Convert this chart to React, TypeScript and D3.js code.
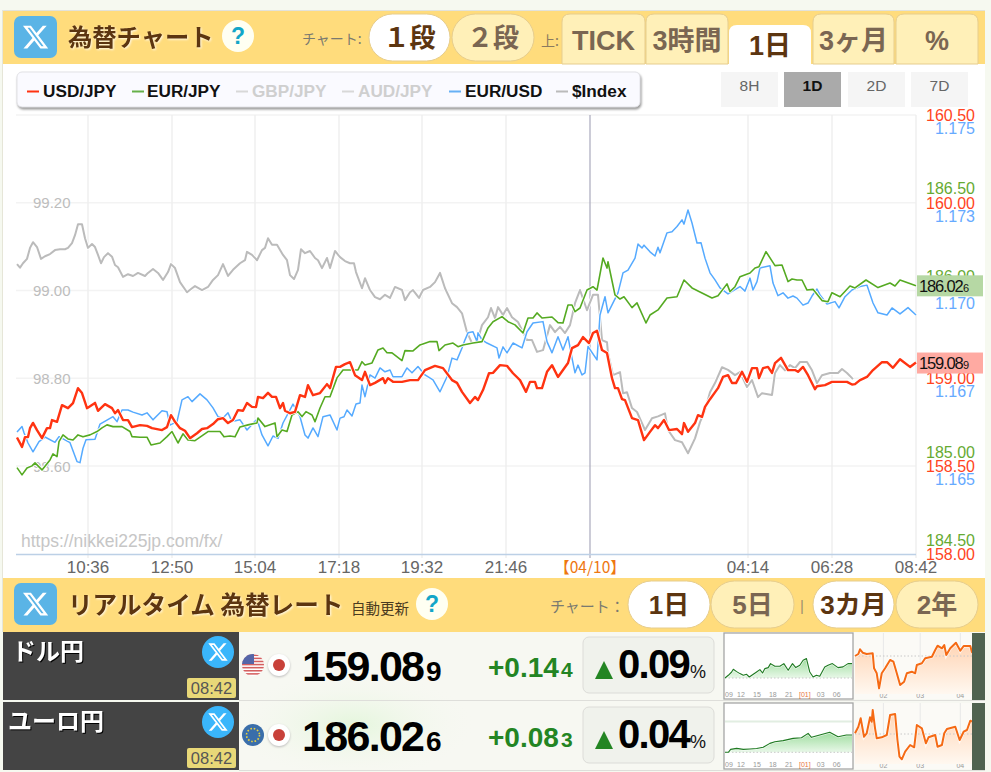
import React from 'react';
import * as d3 from 'd3';

// x is a step on the one-day axis: 900 steps = 24 hours, 0 = 08:42 of the previous day
type P = [number, number];

const timeTicks: P[] = [[72, 0], [156, 0], [239, 0], [323, 0], [406, 0], [490, 0], [574, 0], [732, 0], [816, 0], [900, 0]];
const timeLabels = ['10:36', '12:50', '15:04', '17:18', '19:32', '21:46', '【04/10】', '04:14', '06:28', '08:42'];
const indexTicks = [99.2, 99.0, 98.8, 98.6];
const usdTicks = [160.5, 160.0, 159.0, 158.5, 158.0];
const eurTicks = [186.5, 186.0, 185.0, 184.5];
const eurUsdTicks = [1.175, 1.1725, 1.17, 1.1675, 1.165];
const eurUsdTickLabels = ['1.175', '1.173', '1.170', '1.167', '1.165'];

const usdJpy: P[] = [[1,158.662],[6,158.608],[9,158.664],[12,158.664],[14,158.715],[17,158.745],[21,158.704],[26,158.658],[31,158.715],[34,158.715],[36,158.761],[41,158.751],[46,158.846],[52,158.829],[57,158.858],[62,158.943],[66,158.915],[71,158.829],[79,158.859],[82,158.814],[89,158.852],[96,158.829],[99,158.8],[102,158.818],[107,158.761],[112,158.761],[116,158.721],[124,158.732],[131,158.728],[136,158.715],[146,158.704],[151,158.721],[155,158.789],[159,158.751],[164,158.715],[169,158.7],[174,158.658],[181,158.686],[186,158.71],[191,158.715],[197,158.738],[202,158.766],[207,158.772],[212,158.744],[217,158.761],[222,158.818],[227,158.814],[231,158.858],[236,158.836],[240,158.835],[242,158.893],[247,158.886],[252,158.916],[256,158.893],[260,158.893],[264,158.829],[267,158.858],[269,158.814],[274,158.8],[279,158.808],[284,158.903],[289,158.893],[292,158.96],[297,158.903],[304,158.915],[311,158.966],[314,158.943],[320,159.064],[324,159.064],[329,159.08],[334,159.091],[339,159.017],[346,158.989],[349,159.036],[354,158.96],[359,158.973],[367,159.0],[369,158.972],[372,159.0],[377,158.979],[386,158.979],[394,158.989],[402,158.989],[409,159.046],[419,159.07],[427,159.057],[436,158.989],[441,158.973],[446,158.922],[454,158.858],[459,158.893],[462,158.875],[467,158.932],[473,159.028],[477,159.03],[484,159.074],[491,159.07],[497,159.028],[504,158.989],[510,158.922],[514,158.979],[519,158.979],[521,158.943],[526,158.943],[531,159.036],[536,159.074],[542,159.007],[547,159.046],[552,159.086],[556,159.171],[562,159.188],[567,159.234],[573,159.2],[577,159.257],[581,159.27],[586,159.16],[591,159.143],[596,159.0],[599,158.943],[602,158.943],[606,158.88],[609,158.875],[616,158.772],[622,158.761],[628,158.647],[634,158.694],[639,158.732],[642,158.715],[648,158.761],[653,158.704],[661,158.71],[666,158.681],[668,158.744],[672,158.694],[679,158.744],[682,158.789],[686,158.779],[689,158.836],[694,158.88],[702,158.943],[707,159.007],[712,159.017],[716,158.972],[720,158.972],[726,159.036],[731,158.979],[736,159.057],[741,159.057],[743,159.0],[747,159.057],[752,159.064],[756,159.03],[759,159.086],[765,159.116],[772,159.046],[779,159.046],[782,159.036],[787,159.064],[792,159.017],[799,158.937],[801,158.954],[809,158.96],[816,158.979],[831,158.979],[836,158.964],[839,158.966],[844,158.989],[851,159.007],[857,159.046],[866,159.091],[871,159.091],[877,159.059],[884,159.108],[894,159.064],[900,159.089]];

const eurJpy: P[] = [[1,184.993],[6,184.952],[11,184.991],[16,185.003],[19,185.02],[26,184.98],[34,185.037],[37,185.071],[41,185.056],[43,185.141],[47,185.179],[52,185.156],[57,185.15],[62,185.179],[67,185.168],[74,185.179],[81,185.198],[86,185.219],[91,185.236],[97,185.226],[106,185.226],[114,185.198],[116,185.169],[124,185.166],[131,185.166],[135,185.122],[144,185.133],[151,185.169],[156,185.198],[162,185.133],[167,185.185],[172,185.15],[179,185.146],[192,185.198],[204,185.198],[208,185.168],[214,185.173],[219,185.168],[224,185.224],[232,185.236],[241,185.247],[242,185.275],[249,185.226],[259,185.247],[261,185.169],[266,185.207],[271,185.198],[276,185.292],[282,185.311],[286,185.283],[290,185.311],[296,185.292],[299,185.254],[304,185.332],[309,185.396],[314,185.396],[321,185.503],[327,185.548],[342,185.548],[346,185.595],[349,185.576],[356,185.588],[362,185.662],[367,185.673],[371,185.646],[376,185.645],[386,185.601],[389,185.658],[397,185.656],[404,185.69],[414,185.709],[421,185.709],[423,185.658],[429,185.69],[437,185.701],[442,185.68],[447,185.69],[457,185.701],[466,185.709],[472,185.787],[477,185.822],[486,185.851],[492,185.822],[499,185.804],[507,185.758],[512,185.843],[517,185.843],[521,185.872],[526,185.843],[536,185.849],[542,185.817],[547,185.815],[552,185.917],[556,185.917],[559,185.879],[564,185.9],[571,186.002],[577,186.021],[581,186.002],[587,186.184],[591,186.127],[592,186.163],[599,185.974],[604,185.951],[608,185.964],[616,185.902],[621,185.929],[630,185.815],[634,185.86],[642,185.889],[651,185.957],[661,185.964],[668,186.059],[676,186.014],[686,185.985],[696,185.957],[702,185.97],[711,186.037],[714,185.993],[719,186.021],[724,186.078],[734,186.099],[739,186.127],[743,186.135],[750,186.22],[759,186.141],[766,186.144],[772,186.05],[776,186.065],[781,186.059],[786,186.059],[791,186.002],[797,186.006],[806,185.942],[812,185.936],[816,185.987],[824,185.964],[834,186.025],[839,186.014],[850,186.059],[862,186.016],[874,186.042],[879,186.025],[884,186.059],[900,186.026]];

const eurUsd: P[] = [[1,1.16596],[6,1.16612],[8,1.16594],[12,1.16565],[17,1.1654],[23,1.16569],[29,1.16582],[39,1.16567],[43,1.16583],[54,1.16566],[61,1.16512],[64,1.16509],[67,1.1655],[70,1.16574],[79,1.16576],[84,1.16619],[97,1.1664],[101,1.16626],[106,1.16659],[112,1.16659],[117,1.16653],[126,1.16645],[131,1.16651],[137,1.16631],[146,1.16657],[151,1.16654],[154,1.16616],[161,1.16626],[166,1.16688],[172,1.16697],[176,1.16683],[184,1.16705],[191,1.16688],[197,1.16665],[202,1.1664],[207,1.16636],[212,1.16651],[216,1.16626],[224,1.16631],[231,1.16602],[241,1.16633],[246,1.16588],[252,1.16557],[257,1.16585],[262,1.16578],[267,1.16622],[277,1.16676],[284,1.1664],[289,1.16588],[292,1.16579],[297,1.16608],[302,1.16583],[307,1.1664],[314,1.16645],[321,1.16602],[324,1.16636],[328,1.1664],[331,1.16659],[336,1.16642],[340,1.16676],[344,1.16679],[346,1.1673],[349,1.16697],[354,1.16759],[359,1.1675],[364,1.16779],[369,1.16768],[374,1.16773],[377,1.16754],[386,1.16754],[391,1.16779],[396,1.16765],[402,1.16783],[409,1.16759],[417,1.16745],[424,1.16711],[431,1.16754],[436,1.16807],[441,1.16802],[446,1.16836],[449,1.16859],[452,1.16879],[457,1.16882],[461,1.16854],[462,1.16879],[466,1.16859],[471,1.1685],[481,1.16836],[483,1.16807],[487,1.16839],[491,1.16822],[497,1.1685],[506,1.16836],[511,1.16882],[517,1.16907],[527,1.16911],[531,1.16854],[536,1.16822],[542,1.16868],[547,1.1683],[552,1.16868],[556,1.16807],[559,1.16765],[562,1.16787],[566,1.16759],[569,1.16765],[572,1.1684],[581,1.16802],[584,1.1693],[589,1.16982],[592,1.16936],[602,1.16993],[607,1.1705],[612,1.17058],[619,1.17092],[622,1.17132],[626,1.17121],[628,1.17129],[634,1.1711],[639,1.17098],[642,1.17123],[644,1.17107],[651,1.17164],[656,1.17167],[661,1.17182],[666,1.17201],[668,1.17189],[672,1.17229],[676,1.17192],[681,1.17135],[685,1.17136],[689,1.17092],[694,1.1705],[699,1.1703],[704,1.17007],[712,1.1699],[724,1.17011],[729,1.16998],[734,1.17035],[737,1.17001],[741,1.17025],[744,1.17064],[754,1.1707],[757,1.17021],[762,1.16985],[767,1.16993],[772,1.16978],[777,1.16984],[781,1.16978],[787,1.16958],[792,1.16964],[796,1.16984],[801,1.17004],[804,1.16987],[811,1.16961],[819,1.16968],[823,1.1695],[829,1.16982],[836,1.17001],[844,1.17011],[851,1.17015],[857,1.16964],[862,1.16936],[871,1.1693],[876,1.1695],[884,1.16933],[892,1.16951],[900,1.1693]];

const dollarIndex: P[] = [[1,99.06],[4,99.052],[7,99.062],[11,99.072],[14,99.097],[17,99.11],[21,99.099],[25,99.072],[29,99.078],[34,99.083],[39,99.092],[44,99.094],[49,99.094],[52,99.097],[56,99.108],[59,99.126],[62,99.151],[66,99.151],[69,99.119],[72,99.097],[76,99.106],[79,99.099],[82,99.081],[85,99.062],[88,99.076],[92,99.085],[96,99.077],[99,99.058],[102,99.053],[107,99.031],[112,99.037],[117,99.033],[122,99.04],[129,99.033],[132,99.04],[137,99.049],[142,99.04],[147,99.024],[152,99.042],[155,99.06],[159,99.051],[164,99.019],[171,98.996],[176,99.005],[179,99.01],[186,99.001],[192,99.008],[197,99.024],[202,99.035],[207,99.06],[212,99.033],[217,99.047],[224,99.062],[229,99.069],[231,99.088],[236,99.081],[241,99.069],[246,99.092],[249,99.097],[252,99.119],[256,99.104],[261,99.104],[267,99.081],[271,99.069],[274,99.035],[278,99.026],[282,99.047],[285,99.094],[289,99.085],[294,99.09],[299,99.074],[302,99.069],[306,99.051],[311,99.074],[314,99.051],[319,99.09],[324,99.076],[329,99.067],[334,99.062],[338,99.062],[340,99.042],[346,99.005],[349,99.028],[354,99.001],[359,98.985],[364,98.98],[369,98.99],[374,98.983],[379,99.008],[386,99.001],[389,98.978],[394,98.996],[397,99.001],[403,98.983],[407,99.001],[414,99.008],[419,99.019],[424,99.04],[429,99.005],[436,98.971],[441,98.962],[446,98.948],[451,98.905],[456,98.88],[461,98.882],[466,98.921],[472,98.939],[475,98.96],[479,98.937],[482,98.962],[487,98.944],[491,98.96],[496,98.939],[502,98.928],[507,98.905],[511,98.887],[516,98.887],[521,98.86],[527,98.864],[534,98.921],[539,98.905],[544,98.917],[549,98.903],[554,98.921],[559,98.971],[564,99.001],[571,98.955],[577,98.99],[582,98.99],[586,98.887],[591,98.882],[592,98.857],[597,98.807],[604,98.814],[607,98.766],[611,98.768],[616,98.732],[621,98.723],[629,98.682],[636,98.709],[642,98.713],[649,98.72],[652,98.682],[659,98.659],[666,98.654],[672,98.629],[679,98.663],[684,98.7],[689,98.727],[694,98.768],[699,98.789],[706,98.825],[712,98.819],[719,98.807],[724,98.814],[731,98.78],[736,98.796],[742,98.757],[746,98.766],[756,98.762],[759,98.812],[764,98.83],[769,98.818],[774,98.83],[779,98.823],[784,98.837],[791,98.837],[796,98.818],[801,98.789],[806,98.807],[814,98.812],[822,98.812],[826,98.821],[831,98.812],[837,98.798]];

// small table charts: [position along the strip, price]
const usdDay: P[] = [[15,158.945],[25,158.972],[35,159.005],[40,159.032],[50,159.009],[60,158.989],[70,158.972],[80,158.982],[88,158.955],[100,158.982],[110,159.005],[120,159.029],[128,158.995],[135,159.039],[145,159.049],[152,159.089],[165,159.062],[180,159.062],[192,159.089],[205,159.022],[218,159.089],[228,159.049],[240,159.072],[250,159.123],[260,159.139],[270,159.005],[280,158.955],[290,158.972],[300,158.962],[315,159.056],[325,159.072],[338,159.089],[355,159.049],[370,159.056],[385,159.089],[397,159.089]];
const eurDay: P[] = [[15,185.943],[25,185.943],[32,185.957],[50,185.962],[70,185.957],[90,185.959],[110,185.961],[130,185.967],[150,185.986],[165,185.994],[190,185.999],[220,186.01],[245,186.013],[265,186.034],[275,186.015],[300,186.026],[330,186.039],[355,186.018],[380,186.026],[397,186.026]];
const usdQuarter: P[] = [[405,158.9],[415,159.1],[420,159.57],[428,159.23],[440,159.1],[458,159.17],[462,157.67],[470,157.17],[477,155.67],[485,157.17],[495,157.67],[510,158.5],[520,158.33],[530,157.17],[540,156.0],[552,156.33],[560,157.17],[575,157.33],[585,157.17],[590,158.0],[605,158.17],[615,158.67],[635,158.83],[645,159.5],[652,159.93],[665,159.67],[672,160.0],[678,159.0],[690,159.67],[707,160.23],[720,159.43],[730,159.9],[750,159.9],[755,159.23]];
const eurQuarter: P[] = [[405,185.57],[415,186.23],[422,187.07],[432,185.23],[440,185.57],[450,187.17],[455,186.73],[458,187.9],[465,186.07],[470,185.07],[485,185.17],[500,185.4],[510,187.4],[525,187.5],[532,184.9],[538,183.23],[545,182.97],[555,183.73],[570,184.4],[582,184.17],[590,186.4],[605,186.07],[617,184.57],[625,185.17],[645,185.4],[652,184.23],[665,184.4],[672,185.57],[680,186.0],[705,186.23],[718,184.9],[730,185.73],[740,185.9],[750,186.83],[755,186.73]];
const dayLabels = ['09', '12', '15', '18', '21', '[01]', '03', '06'];
const dayLabelSteps = [27, 63, 111, 159, 207, 255, 303, 351];
const quarterLabels = ['02', '03', '04'];
const quarterLabelSteps = [490, 600, 720];

const legendItems = ['USD/JPY', 'EUR/JPY', 'GBP/JPY', 'AUD/JPY', 'EUR/USD', '$Index'];
const legendColors = ['#ff3311', '#66b04a', '#d8d8d8', '#d8d8d8', '#66b0f5', '#bbbbbb'];
const legendActive = [true, true, false, false, true, true];
const rangeButtons = ['8H', '1D', '2D', '7D'];
const periodTabs = ['TICK', '3時間', '1日', '3ヶ月', '%'];

const SANS = '"Liberation Sans","Noto Sans CJK JP",sans-serif';
const CJK = '"Noto Sans CJK JP","Liberation Sans",sans-serif';
const AMBER = '#ffdc7c';
const PALE = '#fff0b8';
const BROWN = '#5c3510';
const MUTED = '#7a6652';
const XPATH = 'M18.244 2.25h3.308l-7.227 8.26 8.502 11.24H16.17l-5.214-6.817L4.99 21.75H1.68l7.73-8.835L1.254 2.25H8.08l4.713 6.231zm-1.161 17.52h1.833L7.084 4.126H5.117z';
const GLOW = 'drop-shadow(1px 1px 1px rgba(255,255,255,0.85))';

const xT = d3.scaleLinear().domain([0, 900]).range([16, 916]);
const yIndex = d3.scaleLinear().domain([98.6, 99.2]).range([466, 202.7]);
const yUsd = d3.scaleLinear().domain([158, 160]).range([553.6, 202.7]);
const yEur = d3.scaleLinear().domain([185, 186]).range([466.4, 290.4]);
const yEurUsd = d3.scaleLinear().domain([1.165, 1.17]).range([465.8, 290.4]);

function pathOf(data: P[], y: d3.ScaleLinear<number, number>) {
  return d3.line<P>().x((d) => xT(d[0])).y((d) => y(d[1]))(data) ?? '';
}

function Series({ data, y, color, width }: { data: P[]; y: d3.ScaleLinear<number, number>; color: string; width: number }) {
  const d = pathOf(data, y);
  return (
    <g fill="none" strokeLinejoin="round">
      <path d={d} stroke="#fff" strokeWidth={width + 1.6} />
      <path d={d} stroke={color} strokeWidth={width} />
    </g>
  );
}

function XIcon({ x, y }: { x: number; y: number }) {
  return (
    <g>
      <rect x={x} y={y} width={43} height={42} rx={7} fill="#5ab4e6" />
      <path d={XPATH} transform={`translate(${x + 7.5},${y + 7}) scale(1.17)`} fill="#fff" />
    </g>
  );
}

function Help({ cx, cy }: { cx: number; cy: number }) {
  return (
    <g>
      <circle cx={cx} cy={cy} r={16} fill="#fffff2" />
      <text x={cx} y={cy + 8} textAnchor="middle" fontFamily={SANS} fontWeight="bold" fontSize={23} fill="#12a6c8">?</text>
    </g>
  );
}

function Pill({ x, w, y, h, label, on, size = 26 }: { x: number; w: number; y: number; h: number; label: string; on: boolean; size?: number }) {
  return (
    <g>
      <rect x={x} y={y} width={w} height={h} rx={h / 2} fill={on ? '#fff' : PALE} stroke="#e6cd8e" />
      <text x={x + w / 2} y={y + h / 2 + size * 0.36} textAnchor="middle" fontFamily={SANS} fontWeight="bold" fontSize={size} fill={on ? BROWN : MUTED}>{label}</text>
    </g>
  );
}

function TabShape({ x, w, top, on, label }: { x: number; w: number; top: number; on: boolean; label: string }) {
  const b = 64;
  const d = `M${x},${b}V${top + 8}Q${x},${top} ${x + 8},${top}H${x + w - 8}Q${x + w},${top} ${x + w},${top + 8}V${b}Z`;
  return (
    <g>
      <path d={d} fill={on ? '#fff' : PALE} stroke={on ? 'none' : '#e6cd8e'} />
      <text x={x + w / 2} y={on ? 55 : 50} textAnchor="middle" fontFamily={SANS} fontWeight="bold" fontSize={27} fill={on ? BROWN : MUTED}>{label}</text>
    </g>
  );
}

function Spark({ data, xr, dom, yBase, yPerUnit, color, width, base, fillTop, fillBottom, id, clipX, clipW, yFloor }:
  { data: P[]; xr: [number, number]; dom: [number, number]; yBase: number; yPerUnit: number; color: string; width: number; base: number; fillTop: string; fillBottom: string; id: string; clipX: number; clipW: number; yFloor: number }) {
  const x = d3.scaleLinear().domain(dom).range(xr);
  const y = d3.scaleLinear().domain([base, base + 1]).range([yBase, yBase - yPerUnit]);
  const line = d3.line<P>().x((d) => x(d[0])).y((d) => y(d[1]))(data) ?? '';
  const area = d3.area<P>().x((d) => x(d[0])).y0(yFloor).y1((d) => y(d[1]))(data) ?? '';
  return (
    <g>
      <defs>
        <linearGradient id={id} x1="0" x2="0" y1="0" y2="1">
          <stop offset="0" stopColor={fillTop} />
          <stop offset="1" stopColor={fillBottom} />
        </linearGradient>
      </defs>
      <path d={area} fill={`url(#${id})`} />
      <line x1={clipX} x2={clipX + clipW} y1={yBase} y2={yBase} stroke="#c8c8c8" strokeDasharray="1.5 2" />
      <path d={line} fill="none" stroke="#fff" strokeWidth={width + 1.4} strokeOpacity={0.7} />
      <path d={line} fill="none" stroke={color} strokeWidth={width} strokeLinejoin="round" />
    </g>
  );
}

function Row({ top, name, nameX, price, small, change, changeSmall, pct, eu, day, dayBase, dayPx, quarter, quarterBase, idp }:
  { top: number; name: string; nameX: number; price: string; small: string; change: string; changeSmall: string; pct: string; eu: boolean; day: P[]; dayBase: number; dayPx: number; quarter: P[]; quarterBase: number; idp: string }) {
  const dx = d3.scaleLinear().domain([15, 397]).range([725, 852]);
  const qx = d3.scaleLinear().domain([405, 755]).range([855, 972]);
  const baseY = top + (eu ? 50.3 : 46);
  const qBaseY = top + (eu ? 32 : 24);
  return (
    <g>
      <rect x={3} y={top} width={236} height={68} fill="#444" />
      <text x={nameX} y={top + 28} fontFamily={CJK} fontWeight="bold" fontSize={24} fill="#fff" style={{ filter: 'drop-shadow(1px 1px 0 #000)' }}>{name}</text>
      <circle cx={218} cy={top + 20} r={16} fill="#3ab6fb" />
      <path d={XPATH} transform={`translate(${218 - 10.8},${top + 20 - 10.8}) scale(0.9)`} fill="#fff" />
      <rect x={187} y={top + 46} width={49} height={20} rx={2} fill="#e8d878" />
      <text x={211.5} y={top + 62} textAnchor="middle" fontFamily={SANS} fontSize={16.5} fill="#555">08:42</text>

      <defs>
        <clipPath id={`${idp}flag`}><circle cx={253} cy={top + 33} r={11} /></clipPath>
      </defs>
      <circle cx={253} cy={top + 33} r={11} fill={eu ? '#3a6eaa' : '#fff'} />
      {eu
        ? <circle cx={253} cy={top + 33} r={6.5} fill="none" stroke="#e8d040" strokeWidth={1.6} strokeDasharray="1.6 1.8" />
        : <g clipPath={`url(#${idp}flag)`}>
            {d3.range(0, 7).map((i) => <rect key={i} x={242} y={top + 22.5 + i * 3.1} width={22} height={1.55} fill="#cc4444" opacity={0.85} />)}
            <rect x={242} y={top + 22} width={12} height={10} fill="#5566a8" />
          </g>}
      <circle cx={279} cy={top + 33} r={11} fill="#fff" style={{ filter: 'drop-shadow(0 1px 1px #bbb)' }} />
      <circle cx={279} cy={top + 33} r={6} fill="#c8413a" />

      <text x={302} y={top + 49} fontFamily={SANS} fontWeight="bold" fontSize={43} letterSpacing={-1.7} fill="#000">{price}</text>
      <text x={426} y={top + 49} fontFamily={SANS} fontWeight="bold" fontSize={28} fill="#000">{small}</text>
      <text x={488} y={top + 44.5} fontFamily={SANS} fontWeight="bold" fontSize={28} fill="#238523">{change}</text>
      <text x={561} y={top + 44.5} fontFamily={SANS} fontWeight="bold" fontSize={21} fill="#238523">{changeSmall}</text>

      <rect x={583} y={top + 5} width={131} height={56} rx={6} fill="#f0f2ec" stroke="#dcdcd8" />
      <path d={`M595,${top + 47}H613L604,${top + 29}Z`} fill="#238523" />
      <text x={618} y={top + 46} fontFamily={SANS} fontWeight="bold" fontSize={40} letterSpacing={-1.7} fill="#000">{pct}</text>
      <text x={690} y={top + 46} fontFamily={SANS} fontSize={18} fill="#111">%</text>

      <rect x={724} y={top + 1} width={129} height={66} fill="#fff" stroke="#a6a6a6" strokeWidth={1.3} />
      {eu && <line x1={725} x2={852} y1={top + 19.5} y2={top + 19.5} stroke="#e2eee2" strokeWidth={2} />}
      <Spark id={`${idp}d`} data={day} xr={[725, 852]} dom={[15, 397]} yBase={baseY} yPerUnit={dayPx} base={dayBase} color="#1f7a22" width={1.1} fillTop="#9edc9e" fillBottom="#e8f8e8" clipX={725} clipW={127} yFloor={baseY} />
      {dayLabels.map((l, i) => (
        <text key={l} x={dx(dayLabelSteps[i])} y={top + 65} textAnchor="middle" fontFamily={SANS} fontSize={7} fill={l === '[01]' ? '#e87744' : '#999'}>{l}</text>
      ))}

      <rect x={854} y={top + 1} width={118} height={66} fill="#fbfaf6" />
      {quarterLabels.map((l, i) => (
        <g key={l}>
          <line x1={qx(quarterLabelSteps[i])} x2={qx(quarterLabelSteps[i])} y1={top + 1} y2={top + 60} stroke="#e8e8e8" />
          <text x={qx(quarterLabelSteps[i])} y={top + 66} textAnchor="middle" fontFamily={SANS} fontSize={7} fill="#999">{l}</text>
        </g>
      ))}
      <Spark id={`${idp}q`} data={quarter} xr={[855, 972]} dom={[405, 755]} yBase={qBaseY} yPerUnit={10} base={quarterBase} color="#f56a14" width={2} fillTop="#ffd4b4" fillBottom="#fff8f0" clipX={855} clipW={117} yFloor={top + 62} />
      <rect x={972} y={top + 1} width={13} height={67} fill="#506350" />
    </g>
  );
}

export default function App() {
  const rightLabelBase = { textAnchor: 'end' as const, fontFamily: SANS, fontSize: 16 };
  return (
    <svg width={991} height={772} viewBox="0 0 991 772" style={{ position: 'absolute', left: 0, top: 0, display: 'block' }}>
      <defs>
        <radialGradient id="glow" cx="0.5" cy="0.5" r="0.5">
          <stop offset="0" stopColor="#e4f6dc" />
          <stop offset="1" stopColor="#f7f8f2" stopOpacity={0} />
        </radialGradient>
      </defs>
      <rect width={991} height={772} fill="#f6f9f0" />
      <rect x={2} y={10} width={983} height={1.5} fill="#e2e2da" />
      <rect x={2} y={10} width={1.5} height={622} fill="#e6e6d8" />
      <rect x={3} y={11} width={982} height={621} fill="#fff" />

      {/* top header */}
      <rect x={3} y={11} width={982} height={53} fill={AMBER} />
      <XIcon x={14} y={16} />
      <text x={68} y={46} fontFamily={CJK} fontWeight="bold" fontSize={24.3} fill={BROWN} style={{ filter: GLOW }}>為替チャート</text>
      <Help cx={238} cy={36} />
      <text x={302} y={44} fontFamily={CJK} fontSize={14} fill="#7a7a70">チャート:</text>
      <Pill x={369} w={81} y={14} h={47} label="１段" on={true} />
      <Pill x={452} w={82} y={14} h={47} label="２段" on={false} />
      <text x={541} y={46} fontFamily={CJK} fontSize={14} fill="#8a7a60">上:</text>
      <TabShape x={562} w={83} top={14} on={false} label={periodTabs[0]} />
      <TabShape x={646} w={82} top={14} on={false} label={periodTabs[1]} />
      <TabShape x={729} w={82} top={25} on={true} label={periodTabs[2]} />
      <TabShape x={813} w={81} top={14} on={false} label={periodTabs[3]} />
      <TabShape x={896} w={82} top={14} on={false} label={periodTabs[4]} />

      {/* plot frame */}
      <g>
        {[115, ...indexTicks.map((t) => yIndex(t))].map((y, i) => (
          <line key={i} x1={16} x2={916} y1={y} y2={y} stroke="#f3f3f3" strokeWidth={1.6} />
        ))}
        {timeTicks.map((t, i) => (
          <line key={i} x1={xT(t[0])} x2={xT(t[0])} y1={115} y2={558} stroke={i === 6 ? '#a9a9bc' : '#eeeeee'} strokeWidth={i === 6 ? 1.2 : 1.4} />
        ))}
        <line x1={16} x2={916} y1={554.5} y2={554.5} stroke="#bcd0e6" strokeWidth={1.4} />
        {indexTicks.map((t) => (
          <text key={t} x={33} y={yIndex(t) + 5.5} fontFamily={SANS} fontSize={15} fill="#bdbdbd">{t.toFixed(2)}</text>
        ))}
        <text x={21} y={547} fontFamily={SANS} fontSize={17.5} fill="#c6c6c6">https://nikkei225jp.com/fx/</text>
      </g>

      <Series data={dollarIndex} y={yIndex} color="#bbbbbb" width={2} />
      <Series data={eurUsd} y={yEurUsd} color="#55aaff" width={1.5} />
      <Series data={eurJpy} y={yEur} color="#55aa22" width={1.6} />
      <Series data={usdJpy} y={yUsd} color="#ff3311" width={2.4} />

      {timeTicks.map((t, i) => (
        <text key={i} x={xT(t[0])} y={573} textAnchor="middle" fontFamily={i === 6 ? CJK : SANS} fontSize={i === 6 ? 15.5 : 17} fill={i === 6 ? '#ee7711' : '#666'}>{timeLabels[i]}</text>
      ))}

      {/* right axes: labels stand a little away from their grid lines so they do not overprint */}
      {eurTicks.map((t) => <text key={t} x={975} y={yEur(t) - 14.4 + 6} {...rightLabelBase} fill="#66aa33">{t.toFixed(2)}</text>)}
      {usdTicks.map((t) => <text key={t} x={975} y={yUsd(t) + 6} {...rightLabelBase} fill="#ff4422">{t.toFixed(2)}</text>)}
      {eurUsdTicks.map((t, i) => <text key={t} x={975} y={yEurUsd(t) + 13 + 6} {...rightLabelBase} fill="#66aaff">{eurUsdTickLabels[i]}</text>)}

      {/* last-value tags */}
      <rect x={917} y={yEur(186.026) - 10.5} width={66} height={21} fill="#b6d8a4" />
      <text x={919} y={yEur(186.026) + 6} fontFamily={SANS} fontSize={16.5} letterSpacing={-1.15} fill="#111">186.02</text>
      <text x={963} y={yEur(186.026) + 6} fontFamily={SANS} fontSize={11} fill="#111">6</text>
      <rect x={917} y={yUsd(159.089) - 10} width={66} height={21} fill="#ffaaa2" />
      <text x={919} y={yUsd(159.089) + 6.5} fontFamily={SANS} fontSize={16.5} letterSpacing={-1.15} fill="#111">159.08</text>
      <text x={963} y={yUsd(159.089) + 6.5} fontFamily={SANS} fontSize={11} fill="#111">9</text>

      {/* legend */}
      <rect x={17} y={72} width={623} height={35} rx={5} fill="#fafaff" stroke="#e2e2e6" style={{ filter: 'drop-shadow(1px 2px 1px #999)' }} />
      {legendItems.map((l, i) => {
        const sw = [27, 132, 236, 342, 449, 556][i];
        const tx = [43, 147, 252, 358, 465, 572][i];
        return (
          <g key={l}>
            <line x1={sw} x2={sw + 12} y1={91.5} y2={91.5} stroke={legendColors[i]} strokeWidth={2} />
            <text x={tx} y={96.5} fontFamily={SANS} fontWeight="bold" fontSize={17.2} fill={legendActive[i] ? '#111' : '#cfcfcf'}>{l}</text>
          </g>
        );
      })}

      {/* range buttons */}
      {rangeButtons.map((b, i) => {
        const bx = [721, 784, 848, 911][i];
        const on = b === '1D';
        return (
          <g key={b}>
            <rect x={bx} y={72} width={57} height={35} fill={on ? '#aaaaaa' : '#f5f5f5'} />
            <text x={bx + 28.5} y={91} textAnchor="middle" fontFamily={SANS} fontWeight={on ? 'bold' : 'normal'} fontSize={15.5} fill={on ? '#111' : '#666'}>{b}</text>
          </g>
        );
      })}

      {/* rate header */}
      <rect x={3} y={578} width={982} height={54} fill={AMBER} />
      <XIcon x={14} y={583} />
      <text x={68} y={614} fontFamily={CJK} fontWeight="bold" fontSize={24.6} fill={BROWN} style={{ filter: GLOW }}>リアルタイム 為替レート</text>
      <text x={351} y={614} fontFamily={CJK} fontSize={14.5} fill="#4a3a20">自動更新</text>
      <Help cx={432} cy={604} />
      <text x={550} y={612} fontFamily={CJK} fontSize={15} fill="#7a7a70">チャート：</text>
      <Pill x={628} w={82} y={581} h={47} label="1日" on={true} />
      <Pill x={711} w={83} y={581} h={47} label="5日" on={false} />
      <text x={802} y={611} textAnchor="middle" fontFamily={SANS} fontSize={15} fill="#a09070">|</text>
      <Pill x={813} w={81} y={581} h={47} label="3カ月" on={true} />
      <Pill x={896} w={82} y={581} h={47} label="2年" on={false} />

      {/* rates */}
      <rect x={239} y={632} width={746} height={138} fill="#f7f8f2" />
      <ellipse cx={352} cy={725} rx={125} ry={55} fill="url(#glow)" />
      <line x1={239} x2={985} y1={700.5} y2={700.5} stroke="#dededa" />
      <line x1={239} x2={985} y1={770.5} y2={770.5} stroke="#dededa" />
      <Row top={632} name="ドル円" nameX={12} price="159.08" small="9" change="+0.14" changeSmall="4" pct="0.09" eu={false} day={usdDay} dayBase={158.945} dayPx={100} quarter={usdQuarter} quarterBase={158.9} idp="u" />
      <Row top={702} name="ユーロ円" nameX={8} price="186.02" small="6" change="+0.08" changeSmall="3" pct="0.04" eu={true} day={eurDay} dayBase={185.943} dayPx={208} quarter={eurQuarter} quarterBase={185.5} idp="e" />
    </svg>
  );
}
